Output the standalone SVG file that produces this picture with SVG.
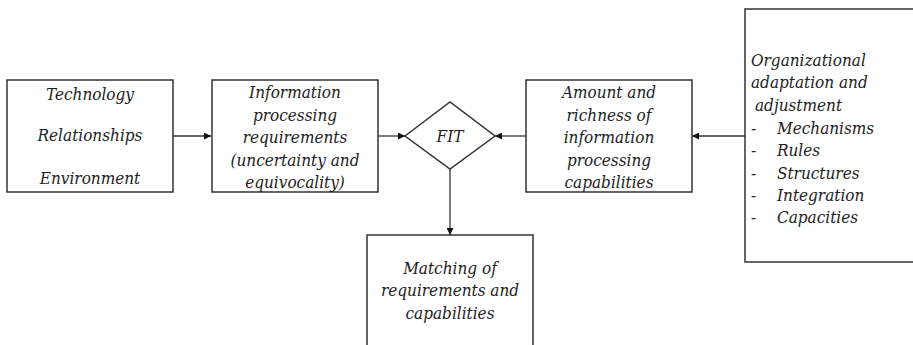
<svg xmlns="http://www.w3.org/2000/svg" width="913" height="345" viewBox="0 0 913 345">
<defs>
<style>
.box{fill:#fff;stroke:#333;stroke-width:1.5}
.ln{stroke:#333;stroke-width:1.3;fill:none}
text{font-family:"DejaVu Serif Condensed","DejaVu Serif","Liberation Serif",serif;font-stretch:condensed;font-style:italic;font-size:17px;fill:#222}
</style>
<marker id="ah" viewBox="0 0 10 10" refX="10" refY="5" markerWidth="7" markerHeight="7" markerUnits="userSpaceOnUse" orient="auto">
<path d="M0,0 L10,5 L0,10 z" fill="#111"/>
</marker>
</defs>
<rect width="913" height="345" fill="#fff"/>
<g id="connectors">
<line class="ln" x1="173" y1="136" x2="211" y2="136" marker-end="url(#ah)"/>
<line class="ln" x1="378" y1="136" x2="405" y2="136" marker-end="url(#ah)"/>
<line class="ln" x1="526" y1="136" x2="495" y2="136" marker-end="url(#ah)"/>
<line class="ln" x1="745" y1="136" x2="692" y2="136" marker-end="url(#ah)"/>
<line class="ln" x1="450" y1="169" x2="450" y2="235" marker-end="url(#ah)"/>
</g>
<g id="n1" text-anchor="middle">
<rect class="box" x="7" y="80" width="166" height="112"/>
<text x="90" y="100">Technology</text>
<text x="90" y="141">Relationships</text>
<text x="90" y="184">Environment</text>
</g>
<g id="n2" text-anchor="middle">
<rect class="box" x="212" y="80" width="166" height="112"/>
<text x="295" y="98">Information</text>
<text x="295" y="121">processing</text>
<text x="295" y="143">requirements</text>
<text x="295" y="166">(uncertainty and</text>
<text x="295" y="188">equivocality)</text>
</g>
<g id="fit" text-anchor="middle">
<polygon class="box" points="405,136 450,102 495,136 450,169"/>
<text x="450" y="142">FIT</text>
</g>
<g id="n3" text-anchor="middle">
<rect class="box" x="526" y="80" width="166" height="112"/>
<text x="609" y="98">Amount and</text>
<text x="609" y="121">richness of</text>
<text x="609" y="143">information</text>
<text x="609" y="166">processing</text>
<text x="609" y="188">capabilities</text>
</g>
<g id="n4">
<rect class="box" x="745" y="9" width="175" height="253"/>
<text x="751" y="66">Organizational</text>
<text x="751" y="88">adaptation and</text>
<text x="755" y="111">adjustment</text>
<text x="751" y="134">-</text><text x="777" y="134">Mechanisms</text>
<text x="751" y="156">-</text><text x="777" y="156">Rules</text>
<text x="751" y="179">-</text><text x="777" y="179">Structures</text>
<text x="751" y="201">-</text><text x="777" y="201">Integration</text>
<text x="751" y="223">-</text><text x="777" y="223">Capacities</text>
</g>
<g id="n5" text-anchor="middle">
<rect class="box" x="367" y="235" width="166" height="120"/>
<text x="450" y="274">Matching of</text>
<text x="450" y="296">requirements and</text>
<text x="450" y="319">capabilities</text>
</g>
</svg>
